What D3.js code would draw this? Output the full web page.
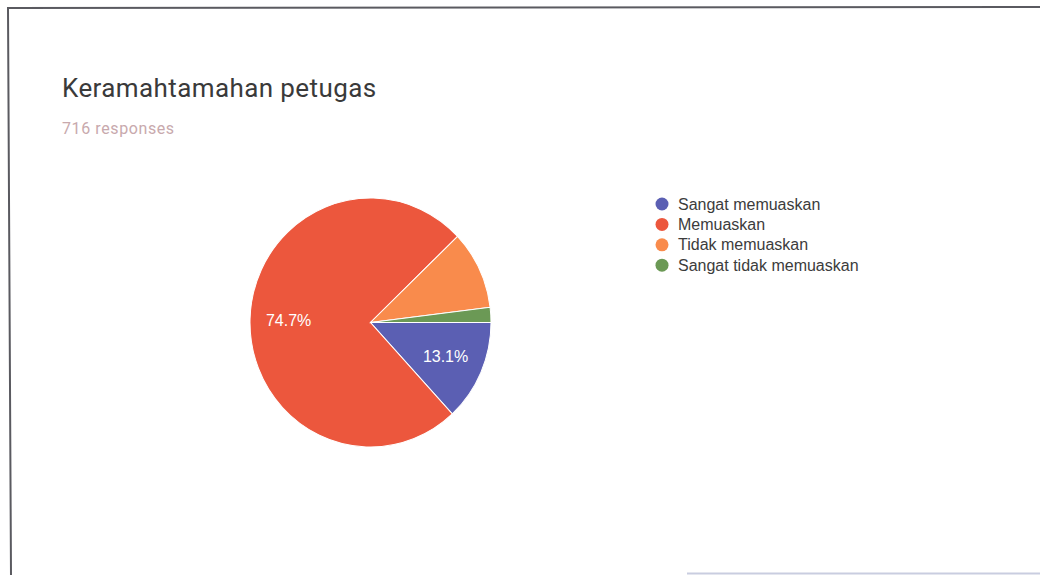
<!DOCTYPE html>
<html>
<head>
<meta charset="utf-8">
<script src="https://cdn.jsdelivr.net/npm/d3@7"></script>
<style>
  body { margin: 0; background: #fff; }
  svg { display: block; font-family: Roboto, "Noto Sans", sans-serif; }
</style>
</head>
<body>
<svg width="1040" height="575"></svg>
<script>
// data (716 responses)
const categories = ["Sangat memuaskan", "Memuaskan", "Tidak memuaskan", "Sangat tidak memuaskan"];
const counts = [94, 535, 73, 14];
const colors = ["#5b5fb3", "#ec573d", "#f98b4c", "#6b9955"];
const title = "Keramahtamahan petugas";
const subtitle = "716 responses";

const width = 1040, height = 575;
const cx = 370.5, cy = 322.5, r = 120.5;
const chartFont = '"Liberation Sans", Arial, sans-serif';

const svg = d3.select("svg");

// frame of the screenshot
svg.append("path")
  .attr("d", "M1040,7 L8,8 L11,575")
  .attr("fill", "none")
  .attr("stroke", "#5a5a60")
  .attr("stroke-width", 2);
svg.append("line")
  .attr("x1", 687).attr("x2", 1040)
  .attr("y1", 573.5).attr("y2", 573.5)
  .attr("stroke", "#c9cde0")
  .attr("stroke-width", 2);

svg.append("text")
  .attr("x", 62).attr("y", 97)
  .attr("font-size", 26)
  .attr("letter-spacing", 0.4)
  .attr("fill", "#3a3a3a")
  .text(title);

svg.append("text")
  .attr("x", 62).attr("y", 134)
  .attr("font-size", 16)
  .attr("letter-spacing", 0.6)
  .attr("fill", "#c8a9ad")
  .text(subtitle);

const total = d3.sum(counts);
const data = categories.map((c, i) => ({ name: c, value: counts[i], color: colors[i] }));

const pie = d3.pie()
  .sort(null)
  .value(d => d.value)
  .startAngle(Math.PI / 2)
  .endAngle(Math.PI / 2 + 2 * Math.PI);

const arc = d3.arc().innerRadius(0).outerRadius(r);
const labelArc = d3.arc().innerRadius(r * 0.68).outerRadius(r * 0.68);

// the scan is slightly taller than wide
const g = svg.append("g")
  .attr("transform", `translate(${cx},${cy}) scale(1,1.033)`);

const arcs = pie(data);

g.selectAll("path")
  .data(arcs)
  .join("path")
    .attr("d", arc)
    .attr("fill", d => d.data.color)
    .attr("stroke", "#fff")
    .attr("stroke-width", 1);

// only the two slices that carry a label in the original
g.selectAll("text")
  .data(arcs.filter(d => d.data.value / total > 0.12))
  .join("text")
    .attr("transform", d => `translate(${labelArc.centroid(d)}) scale(1,${1 / 1.033})`)
    .attr("text-anchor", "middle")
    .attr("dy", "0.35em")
    .attr("font-family", chartFont)
    .attr("font-size", 16)
    .attr("fill", "#fff")
    .text(d => d3.format(".1f")(d.data.value / total * 100) + "%");

// legend
const legend = svg.append("g")
  .attr("transform", "translate(662,204)")
  .selectAll("g")
  .data(data)
  .join("g")
    .attr("transform", (d, i) => `translate(0,${i * 20.4})`);

legend.append("circle")
  .attr("r", 6.5)
  .attr("fill", d => d.color);

legend.append("text")
  .attr("x", 16)
  .attr("dy", "0.35em")
  .attr("font-family", chartFont)
  .attr("font-size", 16)
  .attr("fill", "#3c3c3c")
  .text(d => d.name);
</script>
</body>
</html>
